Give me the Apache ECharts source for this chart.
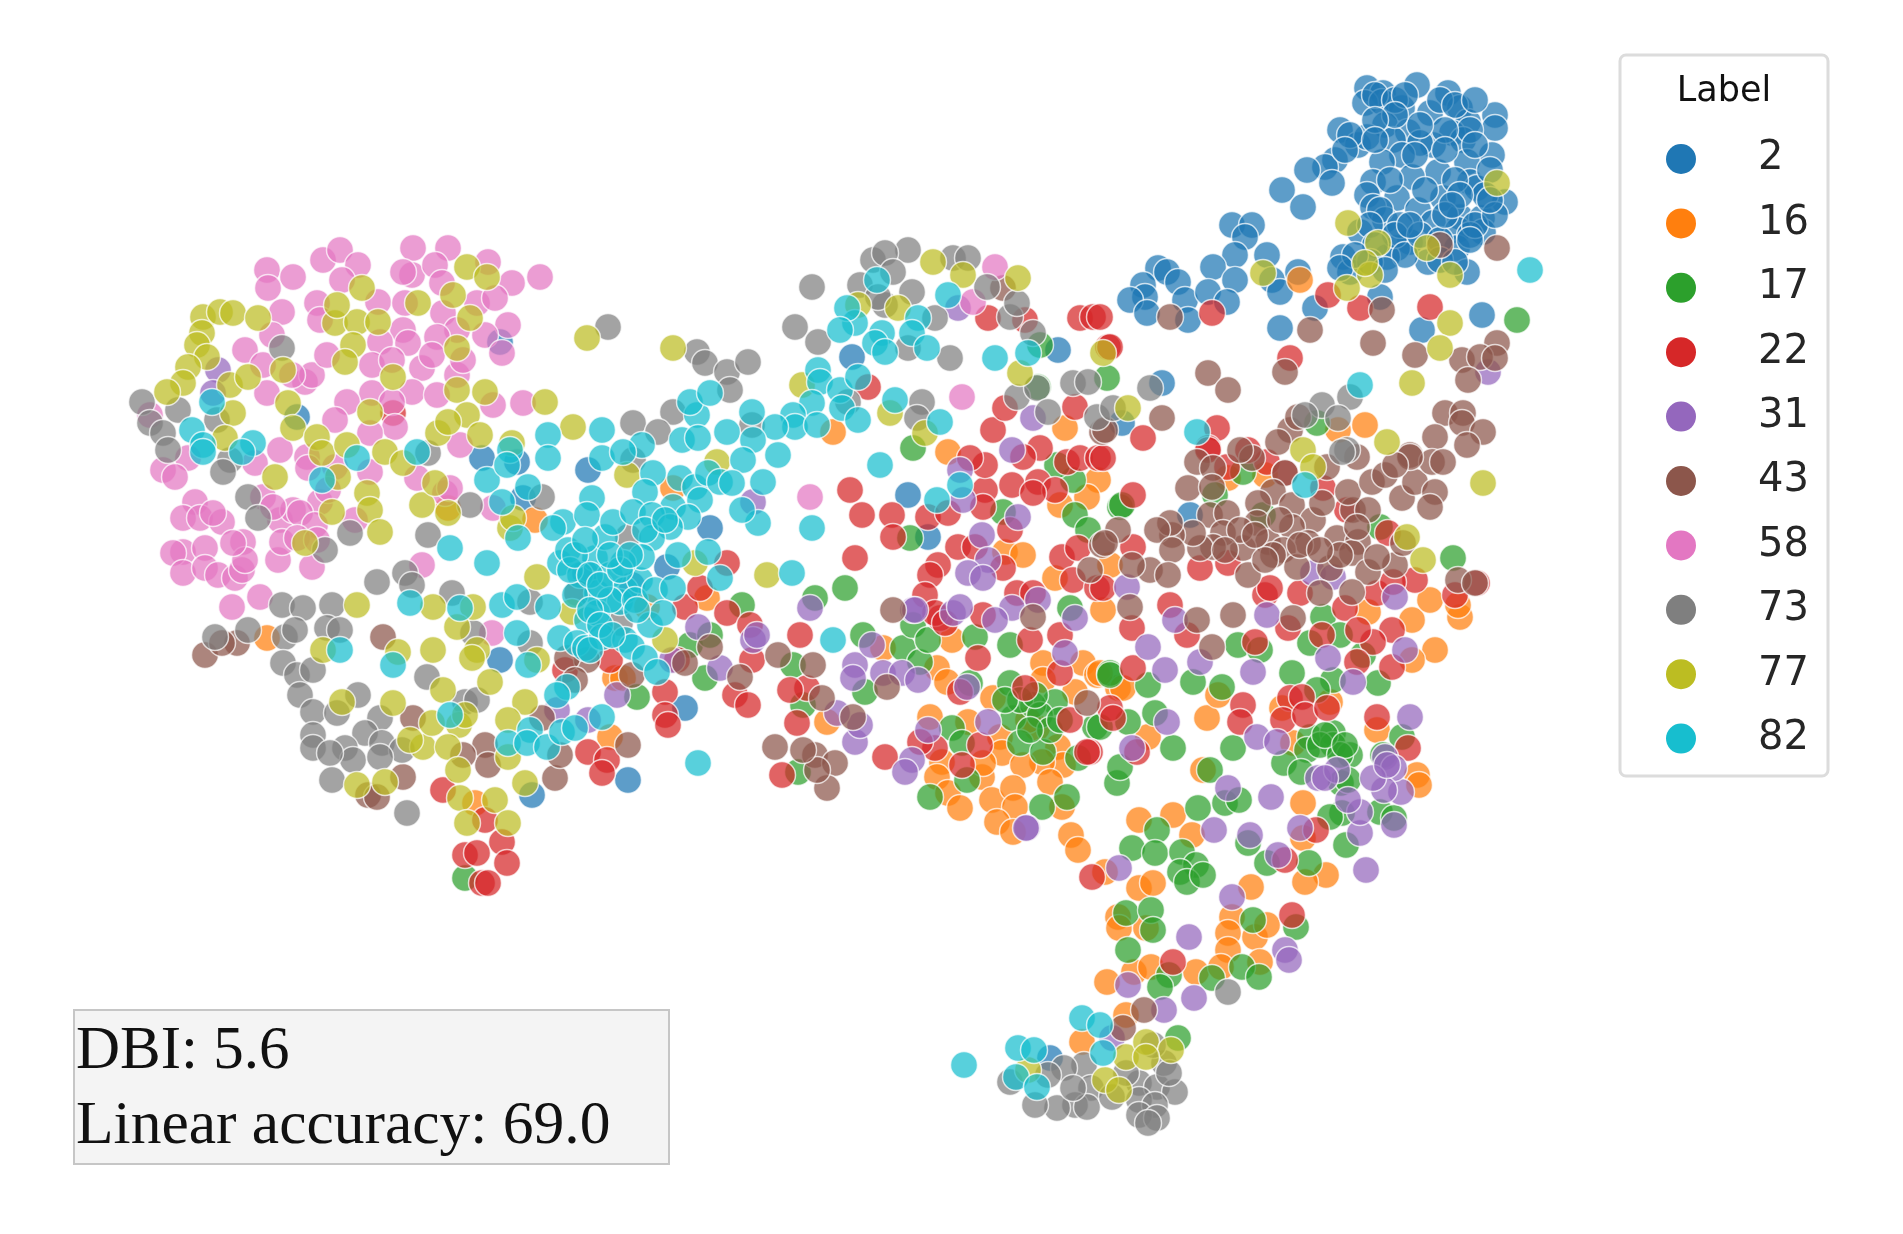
<!DOCTYPE html>
<html>
<head>
<meta charset="utf-8">
<title>Label scatter</title>
<script src="https://cdn.jsdelivr.net/npm/echarts@6/dist/echarts.min.js"></script>
<style>
html,body{margin:0;padding:0;background:#fff}
#main{width:1903px;height:1234px}
</style>
</head>
<body>
<div id="main"></div>
<script>
// embedding has no real axes, values are read off the picture
var categories = ['2','16','17','22','31','43','58','73','77','82'];
var colors = ['#1f77b4','#ff7f0e','#2ca02c','#d62728','#9467bd','#8c564b','#e377c2','#7f7f7f','#bcbd22','#17becf'];

var label2 = [[1367,88],[1383,93],[1365,103],[1382,102],[1417,85],[1448,93],[1460,108],[1402,108],[1430,113],[1495,115],[1495,128],[1468,122],[1340,130],[1385,125],[1408,132],[1452,133],[1358,145],[1367,137],[1433,145],[1420,143],[1463,140],[1393,140],[1402,155],[1492,155],[1382,162],[1467,162],[1335,160],[1325,167],[1307,170],[1332,183],[1282,190],[1303,207],[1438,172],[1412,177],[1373,182],[1470,182],[1477,188],[1397,198],[1443,198],[1367,195],[1373,207],[1505,202],[1385,220],[1418,210],[1460,217],[1482,218],[1433,223],[1458,230],[1483,232],[1410,242],[1397,248],[1387,257],[1360,232],[1457,248],[1428,262],[1467,272],[1343,257],[1350,272],[1232,225],[1252,225],[1245,237],[1235,255],[1213,267],[1235,280],[1267,255],[1272,280],[1280,292],[1158,268],[1167,272],[1178,282],[1143,285],[1145,297],[1130,300],[1147,313],[1185,300],[1188,320],[1208,292],[1227,302],[1298,272],[1315,308],[1280,328],[1380,297],[1422,330],[1482,315],[1162,383],[1122,423],[500,342],[297,417],[482,458],[517,462],[588,470],[523,498],[585,573],[500,660],[532,795],[628,780],[632,585],[852,357],[1058,350],[908,495],[928,537],[710,528],[667,567],[685,708],[1190,515],[1050,1058],[1375,95],[1395,100],[1405,95],[1440,100],[1455,105],[1475,100],[1470,130],[1445,130],[1420,125],[1395,115],[1375,120],[1350,135],[1345,150],[1375,140],[1415,155],[1445,150],[1475,145],[1490,170],[1455,180],[1485,195],[1460,195],[1425,190],[1390,180],[1380,210],[1400,225],[1395,235],[1370,225],[1375,245],[1405,255],[1420,235],[1440,240],[1470,235],[1475,225],[1495,215],[1490,200],[1445,215],[1410,225],[1370,262],[1385,270],[1355,255],[1340,268],[1440,260],[1455,262],[1470,240],[1452,205]];

var label16 = [[535,520],[448,508],[267,638],[615,678],[610,737],[475,803],[833,432],[948,452],[1065,428],[1098,480],[1087,497],[1005,552],[1023,555],[1110,565],[1055,578],[1103,610],[673,488],[707,598],[647,607],[1060,505],[623,678],[883,648],[952,640],[937,668],[947,682],[993,698],[1043,663],[1083,663],[1097,675],[1043,680],[1075,692],[1118,688],[827,722],[930,717],[968,722],[1000,737],[1002,753],[1037,728],[1028,720],[1058,747],[1063,765],[1042,762],[1023,765],[982,777],[983,763],[942,762],[937,777],[948,793],[960,808],[992,800],[1013,788],[1015,807],[997,822],[1050,782],[1062,807],[1013,832],[1300,280],[1365,425],[1338,430],[1228,478],[1265,475],[1368,612],[1412,620],[1430,600],[1460,617],[1458,605],[1435,650],[1412,660],[1123,688],[1100,673],[1207,718],[1218,695],[1282,708],[1330,702],[1377,730],[1148,737],[1293,743],[1139,820],[1173,815],[1192,835],[1071,835],[1078,850],[1105,872],[1139,888],[1153,883],[1118,917],[1119,928],[1146,928],[1303,803],[1251,887],[1232,917],[1228,933],[1228,950],[1255,937],[1267,925],[1260,962],[1303,838],[1326,875],[1305,882],[1203,770],[1417,775],[1419,785],[1107,982],[1134,972],[1151,967],[1196,972],[1221,967],[1126,1015],[1082,1042]];

var label17 = [[637,697],[465,878],[913,448],[1107,378],[1038,387],[1073,480],[1003,512],[1075,515],[1088,530],[1120,507],[910,538],[1057,465],[1040,345],[705,678],[690,645],[710,635],[742,605],[815,598],[845,588],[793,665],[863,635],[865,692],[803,705],[798,772],[903,648],[920,662],[913,625],[928,640],[975,637],[1010,645],[970,683],[1070,608],[1010,683],[1055,702],[1013,718],[1033,705],[1095,727],[1020,743],[1043,752],[1078,758],[952,728],[962,743],[967,780],[930,797],[1042,807],[1067,797],[1117,783],[1110,673],[1120,767],[1517,320],[1317,423],[1122,505],[1215,495],[1243,472],[1263,515],[1380,527],[1453,558],[1323,617],[1340,635],[1310,643],[1238,645],[1260,650],[1363,655],[1292,673],[1333,680],[1378,683],[1193,682],[1222,687],[1148,685],[1110,675],[1128,722],[1155,713],[1173,748],[1233,748],[1310,737],[1333,733],[1307,750],[1333,745],[1350,755],[1100,727],[1402,737],[1383,755],[1317,690],[1210,770],[1198,808],[1225,803],[1239,800],[1157,830],[1132,848],[1155,853],[1182,852],[1196,865],[1180,872],[1187,882],[1203,875],[1267,863],[1309,863],[1126,913],[1151,910],[1153,930],[1128,950],[1253,920],[1296,927],[1242,967],[1259,977],[1169,975],[1160,987],[1212,978],[1178,1038],[1346,845],[1284,763],[1301,772],[1341,783],[1348,780],[1342,813],[1330,817],[1380,812],[1394,818],[1248,843],[1020,700],[1040,715],[1050,730],[1060,720],[1030,730],[1035,695],[1005,700],[1320,745],[1340,755],[1325,735],[1345,745]];

var label22 = [[393,413],[443,790],[485,820],[502,842],[465,855],[477,853],[507,863],[482,883],[488,883],[565,670],[610,660],[588,752],[607,760],[602,773],[665,692],[665,715],[668,725],[988,318],[1025,320],[1080,318],[1093,317],[1108,347],[868,387],[850,490],[993,430],[1005,408],[1075,407],[862,515],[892,515],[893,537],[928,517],[948,513],[985,490],[985,465],[970,458],[1012,485],[983,507],[1040,448],[1023,457],[1067,462],[1080,458],[1098,458],[1038,482],[1055,490],[1033,493],[1010,530],[958,547],[975,547],[938,565],[930,575],[925,595],[1062,557],[1078,548],[1073,580],[1097,588],[1017,593],[1033,593],[983,615],[940,618],[855,558],[727,563],[685,607],[700,588],[727,613],[750,625],[1003,568],[752,660],[735,695],[748,705],[800,635],[807,688],[790,690],[797,723],[782,775],[885,757],[935,613],[945,623],[978,658],[1030,640],[1060,635],[935,748],[962,765],[980,745],[920,742],[1025,688],[1070,720],[1060,673],[1110,708],[1113,718],[1090,752],[960,692],[677,660],[1328,295],[1360,308],[1430,307],[1212,313],[1290,358],[1110,347],[1217,428],[1208,448],[1143,438],[1100,317],[1208,450],[1227,467],[1267,462],[1248,450],[1285,473],[1323,488],[1347,510],[1388,533],[1133,547],[1133,495],[1103,458],[1200,568],[1228,563],[1170,605],[1132,628],[1187,635],[1265,595],[1270,588],[1300,593],[1288,628],[1322,635],[1345,608],[1377,593],[1415,580],[1393,582],[1392,630],[1373,642],[1357,662],[1392,667],[1358,630],[1455,595],[1477,583],[1255,642],[1133,668],[1243,705],[1240,722],[1290,698],[1302,697],[1283,720],[1305,715],[1327,708],[1377,717],[1408,748],[1137,752],[1103,588],[1092,877],[1285,860],[1316,830],[1292,915],[1173,962],[1087,752]];

var label31 = [[218,370],[213,393],[557,710],[588,720],[617,695],[958,308],[1033,418],[1012,450],[963,500],[753,502],[1018,517],[982,535],[988,560],[968,573],[983,578],[913,610],[953,613],[960,607],[810,608],[1012,608],[1038,600],[960,470],[1075,618],[698,627],[753,640],[757,635],[720,668],[672,660],[855,665],[853,678],[883,673],[872,645],[902,673],[918,680],[855,742],[860,725],[837,713],[967,687],[928,730],[988,722],[912,760],[905,772],[1027,828],[1065,653],[915,610],[995,620],[1488,372],[1127,587],[1148,647],[1175,620],[1165,670],[1200,662],[1253,672],[1267,615],[1313,573],[1328,658],[1353,682],[1395,597],[1405,650],[1410,717],[1167,722],[1257,737],[1277,742],[1132,748],[1385,757],[1333,577],[1189,937],[1214,830],[1250,835],[1271,797],[1232,897],[1228,788],[1366,870],[1285,950],[1289,960],[1128,985],[1194,998],[1164,1010],[1112,1038],[1026,828],[1119,868],[1278,855],[1300,828],[1318,778],[1360,833],[1394,825],[1360,812],[1337,770],[1325,778],[1401,792],[1394,768],[1384,790],[1373,778],[1387,765],[1348,800]];

var label43 = [[205,655],[237,643],[222,643],[383,637],[413,718],[485,745],[488,765],[463,755],[403,777],[368,795],[377,797],[542,718],[555,778],[628,745],[560,755],[587,660],[567,658],[577,593],[632,675],[575,680],[1102,545],[1090,570],[1102,432],[1033,617],[893,610],[1003,288],[778,655],[813,665],[822,698],[853,717],[775,747],[815,755],[835,763],[827,788],[817,770],[803,750],[887,687],[740,677],[710,647],[685,663],[1087,703],[1170,317],[1497,248],[1440,245],[1310,330],[1373,343],[1382,310],[1415,355],[1497,343],[1462,360],[1480,357],[1468,380],[1495,358],[1285,372],[1208,373],[1228,390],[1162,418],[1105,430],[1445,413],[1463,413],[1462,423],[1483,432],[1435,437],[1467,445],[1290,430],[1278,442],[1298,417],[1410,455],[1197,462],[1213,468],[1188,488],[1212,487],[1252,458],[1285,473],[1240,450],[1273,492],[1258,503],[1292,505],[1313,520],[1292,527],[1257,523],[1322,503],[1308,543],[1268,542],[1283,550],[1243,548],[1273,555],[1297,567],[1330,568],[1248,575],[1337,538],[1358,542],[1352,553],[1353,510],[1368,510],[1348,492],[1357,527],[1368,572],[1395,565],[1377,557],[1403,543],[1210,515],[1227,513],[1223,533],[1213,547],[1200,548],[1193,533],[1172,535],[1170,523],[1157,530],[1172,550],[1150,570],[1168,575],[1132,565],[1118,530],[1105,543],[1130,607],[1197,620],[1233,615],[1212,647],[1320,593],[1352,592],[1293,618],[1372,482],[1385,475],[1402,498],[1415,482],[1432,462],[1410,457],[1443,462],[1435,492],[1430,507],[1458,580],[1475,583],[1357,457],[1395,465],[1327,467],[1144,1010],[1123,1028],[1240,530],[1280,520],[1265,560],[1300,545],[1225,550],[1255,535],[1340,555],[1320,550]];

var label58 = [[267,270],[293,277],[323,260],[340,250],[358,265],[342,280],[268,288],[317,303],[320,320],[282,312],[272,335],[245,350],[263,365],[267,393],[305,382],[312,375],[292,375],[327,355],[378,302],[413,248],[448,248],[412,275],[403,272],[435,265],[488,262],[512,283],[540,277],[442,283],[405,303],[443,313],[477,303],[495,298],[508,325],[485,335],[457,330],[437,337],[403,330],[408,343],[380,342],[372,365],[392,360],[422,368],[432,355],[457,375],[463,360],[502,353],[412,392],[372,393],[392,402],[437,395],[347,402],[335,420],[395,427],[370,433],[493,405],[523,403],[460,445],[280,450],[255,463],[188,458],[163,470],[175,477],[307,457],[308,468],[335,467],[370,472],[417,478],[445,493],[450,488],[320,502],[328,490],[195,502],[183,518],[200,518],[222,522],[213,513],[263,497],[280,520],[293,510],[273,507],[300,513],[315,525],[355,520],[243,542],[183,552],[205,548],[173,553],[183,573],[205,568],[218,575],[235,578],[242,570],[245,560],[233,543],[278,560],[282,542],[297,538],[317,540],[312,567],[422,565],[493,508],[232,607],[260,597],[492,633],[150,415],[995,267],[973,302],[962,397],[810,497]];

var label73 = [[142,402],[150,423],[163,433],[178,410],[168,450],[282,348],[217,420],[230,460],[223,472],[428,453],[248,497],[258,518],[350,533],[325,550],[428,535],[470,505],[377,582],[405,573],[412,585],[452,593],[530,602],[542,497],[608,327],[282,605],[303,608],[332,605],[248,630],[285,637],[295,630],[327,628],[340,630],[283,663],[297,675],[313,670],[300,695],[358,695],[313,712],[337,713],[380,718],[313,735],[313,748],[365,733],[382,743],[345,748],[353,760],[402,750],[380,757],[330,753],[332,780],[407,813],[427,677],[465,702],[477,700],[620,623],[530,643],[473,633],[215,637],[908,250],[873,260],[885,253],[893,272],[860,285],[912,292],[885,305],[878,297],[812,287],[795,327],[818,342],[953,258],[968,258],[935,318],[908,348],[950,358],[987,287],[1010,317],[1017,303],[1033,333],[697,352],[705,363],[727,372],[748,362],[730,390],[673,412],[633,423],[658,432],[752,425],[922,402],[917,418],[848,402],[1017,397],[1037,388],[1048,412],[1073,383],[1088,382],[1097,417],[1113,408],[628,537],[633,460],[1150,388],[1322,405],[1350,397],[1305,415],[1338,418],[1347,450],[1342,452],[1228,992],[1084,1065],[1064,1068],[1048,1075],[1091,1088],[1075,1105],[1057,1108],[1035,1105],[1087,1107],[1112,1097],[1139,1083],[1157,1087],[1175,1092],[1139,1100],[1155,1105],[1139,1115],[1157,1118],[1126,1073],[1164,1063],[1010,1082],[1153,1045],[1073,1088],[1169,1073],[1148,1123]];

var label77 = [[203,317],[220,312],[233,313],[258,318],[202,333],[197,345],[207,357],[188,367],[183,383],[167,392],[230,385],[248,377],[283,370],[288,403],[293,428],[233,413],[225,438],[317,437],[322,453],[347,445],[385,452],[403,463],[338,477],[275,477],[367,493],[370,510],[380,532],[332,512],[305,543],[335,323],[357,322],[378,322],[353,345],[345,362],[337,305],[362,288],[418,303],[453,295],[467,267],[487,277],[457,348],[470,318],[457,390],[485,392],[545,402],[467,415],[438,433],[480,435],[448,422],[393,377],[370,412],[587,338],[573,427],[512,443],[422,505],[435,483],[448,513],[510,528],[513,518],[537,577],[357,605],[433,607],[473,607],[457,627],[477,650],[472,658],[323,650],[398,652],[433,650],[490,682],[443,690],[537,660],[525,702],[508,720],[393,703],[342,702],[459,725],[465,715],[423,747],[448,747],[410,740],[432,723],[508,757],[458,770],[357,785],[385,782],[460,798],[525,783],[495,800],[508,823],[467,823],[572,612],[665,640],[673,348],[933,262],[963,275],[1018,278],[802,385],[890,413],[925,433],[1020,373],[1103,353],[627,475],[717,462],[695,563],[767,575],[858,305],[898,308],[1348,223],[1497,183],[1378,243],[1427,248],[1450,275],[1370,275],[1365,263],[1347,288],[1263,273],[1450,323],[1440,348],[1412,383],[1128,408],[1387,442],[1303,450],[1313,467],[1483,483],[1423,560],[1407,537],[1126,1057],[1146,1042],[1171,1050],[1028,1070],[1105,1080],[1119,1090],[1146,1057]];

var label82 = [[212,402],[192,430],[203,445],[203,452],[253,443],[242,452],[357,458],[417,452],[322,480],[487,480],[510,450],[507,465],[548,435],[548,458],[602,430],[602,458],[592,498],[528,487],[502,502],[563,522],[553,528],[518,538],[587,515],[450,548],[487,563],[560,563],[568,550],[595,558],[605,537],[613,522],[597,593],[410,603],[460,608],[502,605],[517,597],[548,607],[620,602],[587,620],[597,613],[560,638],[517,633],[577,643],[585,648],[602,637],[393,665],[340,650],[528,665],[567,687],[557,695],[530,730],[508,743],[527,743],[547,747],[562,732],[575,728],[602,717],[450,715],[580,575],[610,575],[575,595],[625,590],[610,600],[640,580],[570,570],[590,610],[635,600],[655,590],[650,625],[625,640],[855,323],[847,308],[840,330],[882,333],[875,343],[885,352],[918,318],[912,333],[927,348],[948,295],[877,280],[995,358],[1028,353],[818,370],[820,382],[840,390],[858,377],[812,403],[793,415],[795,427],[817,425],[775,427],[842,408],[858,420],[895,400],[940,422],[727,432],[752,412],[753,440],[778,455],[743,460],[697,415],[690,402],[710,393],[682,440],[698,438],[642,445],[623,452],[653,473],[645,492],[680,478],[695,487],[708,473],[720,482],[732,483],[763,482],[700,500],[673,507],[633,512],[652,515],[688,517],[670,527],[652,538],[642,557],[678,555],[708,552],[673,588],[720,578],[758,523],[742,510],[812,528],[880,465],[792,573],[663,613],[937,500],[960,485],[623,563],[637,610],[632,647],[645,658],[657,672],[833,640],[698,763],[1530,270],[1360,385],[1197,432],[1305,485],[964,1065],[1018,1048],[1034,1050],[1082,1018],[1100,1025],[1103,1053],[1016,1077],[1037,1087],[575,555],[590,575],[600,585],[620,570],[585,540],[610,555],[630,555],[645,530],[665,520],[600,625],[612,635],[590,650]];

var seriesValues = [label2,label16,label17,label22,label31,label43,label58,label73,label77,label82];

var myChart = echarts.init(document.getElementById('main'));

var series = categories.map(function(name, i){
    return {
        name: name,
        type: 'scatter',
        data: seriesValues[i],
        symbolSize: 27,
        itemStyle: {color: colors[i], opacity: 0.72, borderColor: '#fff', borderWidth: 1.5}
    };
});

var option = {
    animation: false,
    backgroundColor: '#fff',
    grid: {left: 0, right: 0, top: 0, bottom: 0},
    xAxis: {type: 'value', min: 0, max: 1903, show: false},
    yAxis: {type: 'value', min: 0, max: 1234, inverse: true, show: false},
    legend: {
        data: categories,
        orient: 'vertical',
        left: 1666,
        top: 138,
        padding: 0,
        itemWidth: 30,
        itemHeight: 30,
        itemGap: 22.4,
        icon: 'circle',
        itemStyle: {opacity: 1, borderWidth: 0},
        textStyle: {fontFamily: 'DejaVu Sans', fontSize: 40, lineHeight: 42, color: '#262626', padding: [0, 0, 0, 57]}
    },
    graphic: [
        // legend frame and title
        {type: 'rect', shape: {x: 1620, y: 55, width: 208, height: 721, r: 6}, style: {fill: '#fff', stroke: '#dcdcdc', lineWidth: 3}, z: -1},
        {type: 'text', style: {x: 1724, y: 92, text: 'Label', font: '35px "DejaVu Sans"', fill: '#111', align: 'center', verticalAlign: 'middle'}},
        // metrics box
        {type: 'rect', shape: {x: 74, y: 1010, width: 595, height: 154}, style: {fill: '#f4f4f4', stroke: '#c6c6c6', lineWidth: 2}, z: -1},
        {type: 'text', style: {x: 76, y: 1082, text: 'DBI: 5.6', font: '61px "Liberation Serif"', fill: '#111', align: 'left', verticalAlign: 'bottom'}},
        {type: 'text', style: {x: 76, y: 1158, text: 'Linear accuracy: 69.0', font: '61.5px "Liberation Serif"', fill: '#111', align: 'left', verticalAlign: 'bottom'}}
    ],
    series: series
};
myChart.setOption(option);
</script>
</body>
</html>
